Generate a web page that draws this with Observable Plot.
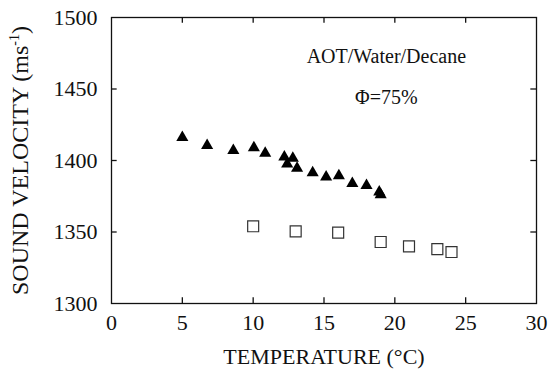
<!DOCTYPE html>
<html>
<head>
<meta charset="utf-8">
<script src="https://cdn.jsdelivr.net/npm/d3@7"></script>
<script src="https://cdn.jsdelivr.net/npm/@observablehq/plot@0.6"></script>
<style>
  html, body { margin: 0; padding: 0; background: #fff; }
  #chart { width: 550px; height: 382px; }
  #chart svg, #chart svg text { font-family: 'Liberation Serif', 'Times New Roman', serif !important; }
</style>
</head>
<body>
<div id="chart"></div>
<script>
// Triangles (filled)
const triTemp = [5, 6.75, 8.6, 10.05, 10.85, 12.2, 12.8, 12.4, 13.1, 14.2, 15.15, 16.05, 17.0, 18.0, 18.9, 19.0];
const triVel  = [1416, 1410.5, 1407, 1409, 1405, 1402.5, 1401.5, 1397.5, 1394.5, 1391.5, 1388.5, 1389.3, 1384, 1382.5, 1378, 1376];
// Squares (open)
const sqTemp = [10, 13, 16, 19, 21, 23, 24];
const sqVel  = [1354, 1350.5, 1349.5, 1343, 1340, 1338, 1336];
// Axis ticks
const xTicks = [0, 5, 10, 15, 20, 25, 30];
const yTicks = [1300, 1350, 1400, 1450, 1500];
// Annotations
const noteText = ["AOT/Water/Decane", "\u03A6=75%"];
const noteX = [19.4, 19.4];
const noteY = [1472.5, 1444];

const tri = triTemp.map((t, i) => ({t, v: triVel[i]}));
const sq = sqTemp.map((t, i) => ({t, v: sqVel[i]}));
const notes = noteText.map((s, i) => ({s, x: noteX[i], y: noteY[i]}));

const font = "'Liberation Serif', 'Times New Roman', serif";

const plot = Plot.plot({
  width: 550,
  height: 382,
  marginLeft: 111,
  marginRight: 14,
  marginTop: 17,
  marginBottom: 79,
  style: {fontFamily: font, fontSize: "22px", color: "#111", background: "#fff"},
  x: {domain: [0, 30]},
  y: {domain: [1300, 1500]},
  marks: [
    Plot.frame({stroke: "#111", strokeWidth: 1.3}),
    // inward ticks on all four sides
    Plot.ruleX(xTicks.slice(1, -1), {y1: 1300, y2: 1304, stroke: "#111", strokeWidth: 1.3}),
    Plot.ruleX(xTicks.slice(1, -1), {y1: 1496, y2: 1500, stroke: "#111", strokeWidth: 1.3}),
    Plot.ruleY(yTicks.slice(1, -1), {x1: 0, x2: 0.4, stroke: "#111", strokeWidth: 1.3}),
    Plot.ruleY(yTicks.slice(1, -1), {x1: 29.6, x2: 30, stroke: "#111", strokeWidth: 1.3}),
    Plot.axisX({ticks: xTicks, tickSize: 0, tickPadding: 11, fontSize: 22, fontFamily: font, label: "TEMPERATURE (\u00B0C)", labelAnchor: "center", labelArrow: "none", labelOffset: 60}),
    Plot.axisY({ticks: yTicks, tickSize: 0, tickPadding: 14, fontSize: 22, fontFamily: font, tickFormat: d => String(d), label: "SOUND VELOCITY (ms-1)", labelAnchor: "center", labelArrow: "none", labelOffset: 101}),
    Plot.dot(sq, {x: "t", y: "v", symbol: "square", r: 6.2, stroke: "#333", strokeWidth: 1.2, fill: "white"}),
    Plot.dot(tri, {x: "t", y: "v", symbol: "triangle", r: 4.5, fill: "#000", stroke: "none"}),
    Plot.text(notes, {x: "x", y: "y", text: "s", fontSize: 20, fontFamily: font, fill: "#111"})
  ]
});
document.getElementById("chart").appendChild(plot);

// superscript in the y label, slightly larger font
plot.querySelectorAll("text").forEach(el => {
  if (el.textContent === "SOUND VELOCITY (ms-1)") {
    el.textContent = "";
    el.setAttribute("font-size", "24");
    const ns = "http://www.w3.org/2000/svg";
    const a = document.createElementNS(ns, "tspan"); a.textContent = "SOUND VELOCITY (ms";
    const b = document.createElementNS(ns, "tspan"); b.textContent = "-1"; b.setAttribute("font-size", "14"); b.setAttribute("dy", "-9");
    const c = document.createElementNS(ns, "tspan"); c.textContent = ")"; c.setAttribute("dy", "9");
    el.appendChild(a); el.appendChild(b); el.appendChild(c);
  }
});
</script>
</body>
</html>
